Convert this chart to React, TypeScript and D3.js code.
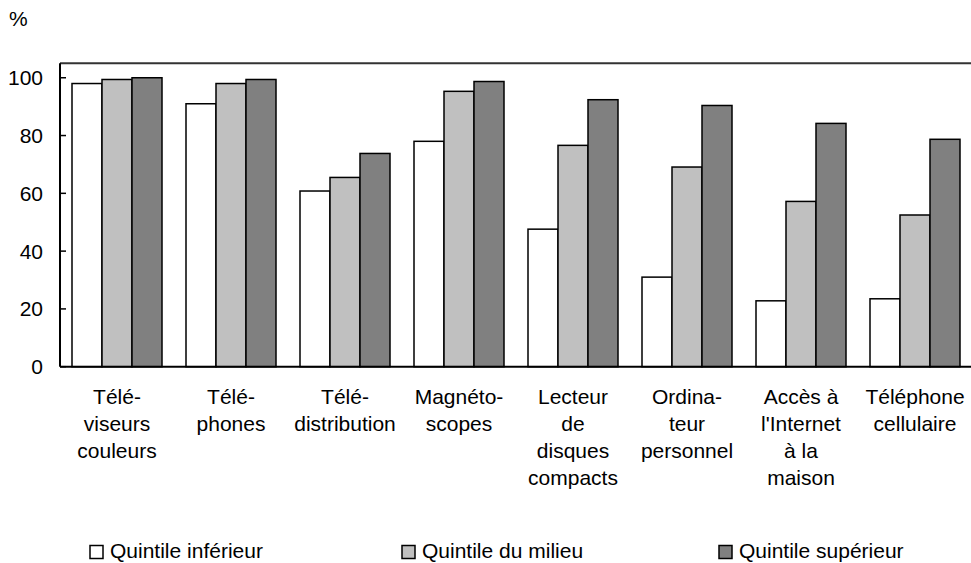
import React from "react";
import * as d3 from "d3";

const categories: string[][] = [
  ["Télé-", "viseurs", "couleurs"],
  ["Télé-", "phones"],
  ["Télé-", "distribution"],
  ["Magnéto-", "scopes"],
  ["Lecteur", "de", "disques", "compacts"],
  ["Ordina-", "teur", "personnel"],
  ["Accès à", "l'Internet", "à la", "maison"],
  ["Téléphone", "cellulaire"],
];
const seriesNames = ["Quintile inférieur", "Quintile du milieu", "Quintile supérieur"];
const lowQuintile = [98.0, 91.0, 60.8, 78.0, 47.6, 31.0, 22.8, 23.5];
const midQuintile = [99.4, 98.0, 65.5, 95.3, 76.6, 69.1, 57.2, 52.5];
const topQuintile = [100.0, 99.4, 73.8, 98.7, 92.4, 90.4, 84.2, 78.7];
const yTicks = [0, 20, 40, 60, 80, 100];
const colors = ["#ffffff", "#c0c0c0", "#808080"];

const W = 971;
const H = 563;
const left = 60;
const right = 972;
const top = 63.3;
const bottom = 366.7;
const FONT = "'Liberation Sans', Arial, sans-serif";
const FS = 21;

export default function App() {
  const series = [lowQuintile, midQuintile, topQuintile];
  const idx = categories.map((_, i) => String(i));
  const x0 = d3.scaleBand<string>().domain(idx).range([left, right]).paddingInner(24 / 114).paddingOuter(12 / 114);
  const x1 = d3.scaleBand<number>().domain([0, 1, 2]).range([0, x0.bandwidth()]);
  const y = d3.scaleLinear().domain([0, 105]).range([bottom, top]);
  const legendX = [90, 402, 719];

  return (
    <svg width={W} height={H} style={{ position: "absolute", left: 0, top: 0 }} fontFamily={FONT}>
      <text x={9} y={26} fontSize={FS} fill="#000">%</text>
      <line x1={left} x2={right} y1={top} y2={top} stroke="#333" strokeWidth={2} />
      {categories.map((_, i) =>
        series.map((s, k) => {
          const bx = (x0(String(i)) as number) + (x1(k) as number);
          return (
            <rect
              key={`${i}-${k}`}
              x={bx}
              y={y(s[i])}
              width={x1.bandwidth()}
              height={y(0) - y(s[i])}
              fill={colors[k]}
              stroke="#000"
              strokeWidth={1.5}
            />
          );
        })
      )}
      <line x1={left} x2={left} y1={top} y2={bottom} stroke="#000" strokeWidth={2} />
      {yTicks.map((t) => (
        <g key={t}>
          <line x1={left} x2={left + 6} y1={y(t)} y2={y(t)} stroke="#000" strokeWidth={1.5} />
          <text x={43} y={y(t) + 7.5} fontSize={FS} textAnchor="end" fill="#000">{t}</text>
        </g>
      ))}
      <line x1={left} x2={right} y1={bottom} y2={bottom} stroke="#000" strokeWidth={2} />
      {categories.map((lines, i) => {
        const cx = (x0(String(i)) as number) + x0.bandwidth() / 2;
        return (
          <text key={i} x={cx} y={404} fontSize={FS} textAnchor="middle" fill="#000">
            {lines.map((l, j) => (
              <tspan key={j} x={cx} dy={j === 0 ? 0 : 27}>{l}</tspan>
            ))}
          </text>
        );
      })}
      {seriesNames.map((n, k) => (
        <g key={n}>
          <rect x={legendX[k]} y={545.5} width={13} height={13} fill={colors[k]} stroke="#000" strokeWidth={1.5} />
          <text x={legendX[k] + 20} y={558} fontSize={FS} fill="#000">{n}</text>
        </g>
      ))}
    </svg>
  );
}
